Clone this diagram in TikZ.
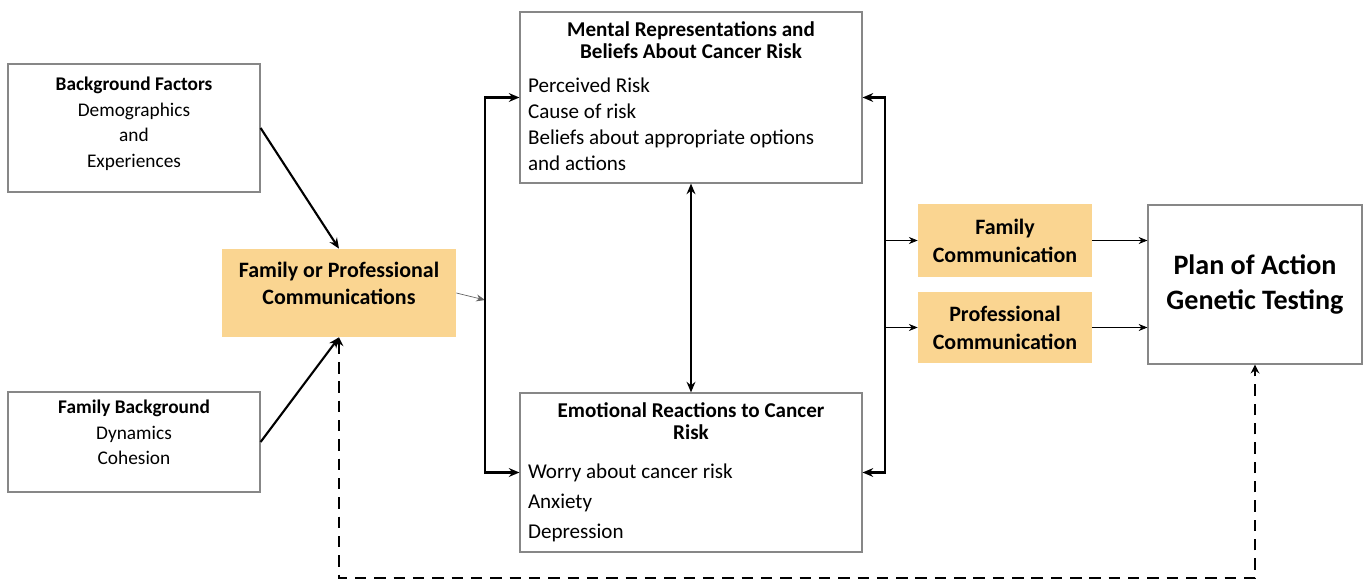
\documentclass[tikz,border=0pt]{standalone}
\usepackage{fontspec}
\setmainfont{Carlito}
\usetikzlibrary{arrows.meta,positioning}

\definecolor{naranja}{RGB}{250,213,145}
\definecolor{borde}{RGB}{135,135,135}

\tikzset{
	caja/.style={draw=borde, line width=0.7pt, inner sep=0pt, font=\fontsize{11}{14.6}\selectfont},
	cajanar/.style={fill=naranja, inner sep=0pt, align=center, font=\bfseries\fontsize{12.5}{16}\selectfont},
	flecha/.style={line width=1.2pt, -{Stealth[length=6pt,width=5pt]}},
	doble/.style={line width=1.2pt, {Stealth[length=6pt,width=5pt]}-{Stealth[length=6pt,width=5pt]}},
	fina/.style={line width=0.4pt, -{Stealth[length=5pt,width=4pt]}},
	discont/.style={line width=1.2pt, dash pattern=on 6.5pt off 4.5pt, {Stealth[length=5pt,width=5pt]}-{Stealth[length=5pt,width=5pt]}}
}

\begin{document}
\begin{tikzpicture}[x=0.02cm, y=-0.02cm]

\useasboundingbox (0,0) rectangle (1369,581);

% Cajas de la izquierda
\node[caja] (bgf) at (134,128)
	{\parbox[c][2.56cm][t]{5.04cm}{\centering\vspace*{0.26cm}%
	\textbf{Background Factors}\\Demographics\\and\\Experiences}};
\node[caja, font=\fontsize{11}{14.5}\selectfont] (fb) at (134,442)
	{\parbox[c][2.0cm][t]{5.04cm}{\centering\vspace*{0.16cm}%
	\textbf{Family Background}\\Dynamics\\Cohesion}};
\node[cajanar, font=\bfseries\fontsize{12.5}{15.4}\selectfont] (fpc) at (339,293)
	{\parbox[c][1.76cm][t]{4.68cm}{\centering\vspace*{0.26cm}%
	Family or Professional\\Communications}};

% Cajas centrales
\node[caja, inner xsep=0.16cm, font=\fontsize{12}{12.5}\selectfont] (mr) at (691,97.5)
	{\parbox[c][3.42cm][t]{6.52cm}{\vspace*{0.2cm}%
	{\centering\bfseries Mental Representations and\\Beliefs About Cancer Risk\par}
	\vspace{4.6pt}\fontsize{12}{14.8}\selectfont\raggedright
	Perceived Risk\\Cause of risk\\Beliefs about appropriate options\\and actions}};
\node[caja, inner xsep=0.16cm, font=\fontsize{12}{12.5}\selectfont] (er) at (691,472.5)
	{\parbox[c][3.18cm][t]{6.52cm}{\vspace*{0.2cm}%
	{\centering\bfseries Emotional Reactions to Cancer\\Risk\par}
	\vspace{4.6pt}\fontsize{12}{17.2}\selectfont\raggedright
	Worry about cancer risk\\Anxiety\\Depression}};

% Cajas de la derecha
\node[cajanar, minimum width=3.48cm, minimum height=1.46cm] (fc) at (1005,240.5)
	{Family\\Communication};
\node[cajanar, minimum width=3.48cm, minimum height=1.42cm] (pc) at (1005,327.5)
	{Professional\\Communication};
\node[caja, minimum width=4.28cm, minimum height=3.18cm, align=center,
	font=\bfseries\fontsize{16}{20}\selectfont] (pa) at (1255,284.5)
	{Plan of Action\\Genetic Testing};

\coordinate (jl) at (485,300);
\coordinate (jr) at (885,285);
\coordinate (abajo) at (0,578);

% Conectores
\draw[flecha] (bgf.east) -- (fpc.north);
\draw[flecha] (fb.east) -- (fpc.south);
\draw[fina, draw=black!60] (fpc.east) -- (jl);
\draw[doble] (mr.west) -| (jl) |- (er.west);
\draw[doble] (mr.east) -| (jr) |- (er.east);
\draw[doble] (mr.south) -- (er.north);
\draw[fina] (jr |- fc.west) -- (fc.west);
\draw[fina] (jr |- pc.west) -- (pc.west);
\draw[fina] (fc.east) -- (pa.west |- fc.east);
\draw[fina] (pc.east) -- (pa.west |- pc.east);
\draw[discont] (fpc.south) -- (fpc.south |- abajo) -| (pa.south);

\end{tikzpicture}
\end{document}
